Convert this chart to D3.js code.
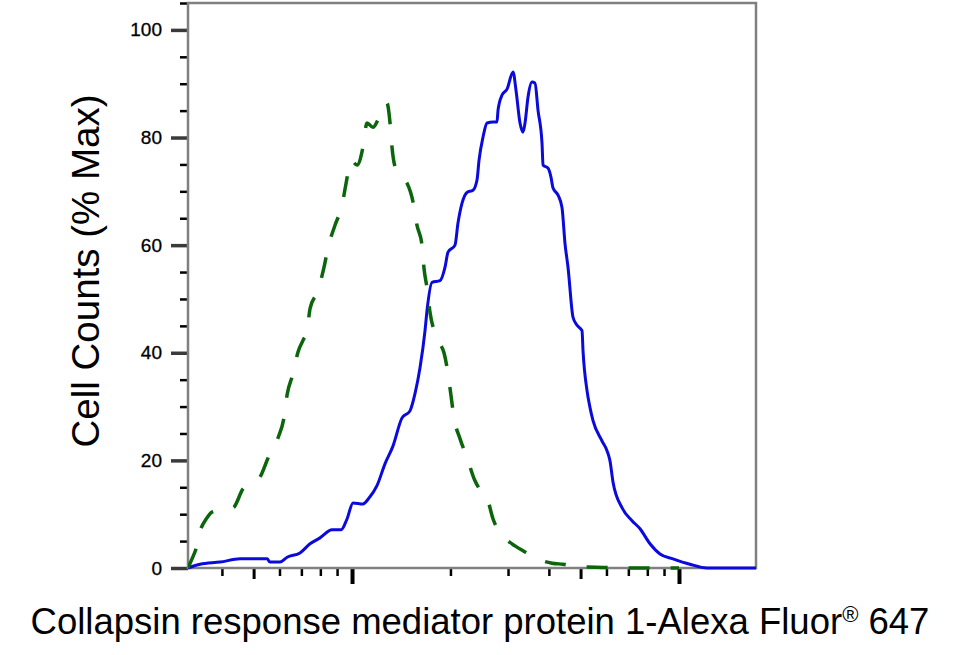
<!DOCTYPE html>
<html lang="en">
<head>
  <meta charset="UTF-8">
  <title>Cell Counts histogram</title>
  <style>
    body {
      margin: 0;
      background: #ffffff;
      font-family: "Liberation Sans", Arial, sans-serif;
    }
    svg { display: block; }
    .tick text { font-family: "Liberation Sans", Arial, sans-serif; }
  </style>
</head>
<body>
  <div id="chart"></div>

  <script src="https://d3js.org/d3.v7.min.js"></script>
  <script>
    // fluorescence intensity (log scale) and % of max for each histogram
    const greenX = [31.5, 32.4, 33.3, 34.5, 35.8, 37.3, 40.0, 43.3, 46.4, 49.5, 52.3, 55.4, 59.4, 61.9, 63.3, 66.0, 68.4, 70.8, 72.8, 74.4, 78.7, 82.1, 84.5, 88.7, 93.2, 95.9, 99.3, 103.6, 108.0, 111.1, 115.9, 120.9, 125.3, 127.9, 130.7, 132.5, 135.4, 141.2, 147.3, 153.7, 158.0, 163.7, 166.0, 169.6, 173.2, 179.4, 185.8, 191.1, 196.6, 200.8, 205.1, 214.0, 224.7, 237.7, 248.0, 258.8, 270.0, 293.7, 315.2, 333.3, 375.8, 408.9, 441.8, 505.1, 585.6, 674.2, 1000];
    const greenY = [0, 1.7, 3.5, 7.3, 9.1, 10.4, 10.8, 11.2, 14.7, 15.8, 16.9, 20.5, 24.2, 27.9, 32.2, 36.1, 40.2, 42.3, 43.9, 48.2, 51.6, 55.9, 59.6, 63.7, 67.4, 71.5, 75.8, 74.9, 78.2, 82.7, 81.9, 83.6, 84.7, 86.4, 82.7, 78.2, 74.5, 72.6, 71.5, 68.0, 63.7, 60.0, 55.7, 52.0, 47.5, 43.6, 41.7, 40.0, 36.1, 32.0, 27.9, 24.0, 20.5, 16.2, 14.3, 13.0, 9.1, 5.6, 4.1, 3.2, 1.5, 0.9, 0.7, 0.2, 0.1, 0, 0];

    const blueX = [31.5, 34.3, 39.5, 45.5, 55.0, 56.1, 60.2, 63.3, 69.3, 74.4, 79.8, 86.9, 92.6, 96.5, 100.7, 108.0, 112.7, 119.2, 126.2, 133.5, 142.2, 150.4, 155.8, 161.4, 167.2, 169.6, 175.7, 185.8, 192.5, 196.6, 206.5, 210.9, 217.0, 224.7, 234.4, 241.1, 244.6, 251.6, 258.8, 270.0, 277.6, 279.6, 287.6, 297.9, 310.7, 317.3, 326.4, 333.3, 338.1, 345.3, 355.2, 362.8, 370.5, 381.1, 383.8, 397.6, 406.1, 411.9, 426.6, 438.7, 448.1, 457.7, 474.1, 487.7, 505.1, 508.7, 523.2, 534.4, 545.8, 581.5, 602.3, 615.2, 628.3, 669.4, 718.3, 759.9, 815.3, 874.8, 958.7, 1080, 1218, 1720];
    const blueY = [0, 0.7, 1.1, 1.7, 1.7, 1.1, 1.1, 2.0, 2.8, 4.5, 5.6, 7.1, 7.1, 9.1, 12.1, 11.9, 13.0, 15.3, 19.4, 22.7, 27.9, 29.2, 32.4, 37.2, 44.1, 47.9, 53.1, 53.4, 55.9, 58.7, 60.0, 64.1, 67.8, 69.8, 70.2, 72.1, 75.8, 80.1, 82.7, 82.9, 82.9, 85.1, 87.9, 89.0, 92.2, 88.8, 82.7, 81.0, 82.7, 87.5, 90.3, 90.1, 85.1, 79.0, 74.9, 74.3, 72.6, 70.6, 69.3, 67.0, 60.3, 55.9, 46.6, 45.1, 44.1, 40.4, 33.0, 29.8, 27.4, 23.6, 21.8, 19.9, 16.0, 11.2, 8.8, 7.3, 4.5, 2.6, 1.7, 0.7, 0, 0];

    const yTicks = [0, 20, 40, 60, 80, 100];
    const xMajorTicks = [100, 1000];

    const width = 961;
    const height = 655;
    const plot = { left: 188, right: 756, top: 3, bottom: 568 };

    const x = d3.scaleLog().domain([31.5, 1720]).range([plot.left, plot.right]);
    const y = d3.scaleLinear().domain([0, 105]).range([plot.bottom, plot.top]);

    const svg = d3.select("#chart")
      .append("svg")
      .attr("width", width)
      .attr("height", height);

    // minor / mid ticks on the log axis (2..9 of each decade)
    const xMinor = [];
    const xMid = [];
    [10, 100, 1000].forEach(dec => {
      for (let k = 2; k <= 9; k++) {
        const v = k * dec;
        if (v < x.domain()[0] || v > x.domain()[1]) continue;
        (k === 5 ? xMid : xMinor).push(v);
      }
    });
    const yMinor = d3.range(5, 106, 5).filter(v => v % 20 !== 0);

    function styleTicks(g, color, w) {
      g.select(".domain").remove();
      g.selectAll(".tick line").attr("stroke", color).attr("stroke-width", w);
    }

    svg.append("g")
      .attr("transform", `translate(0,${plot.bottom})`)
      .call(d3.axisBottom(x).tickValues(xMinor).tickSize(8).tickFormat(""))
      .call(g => styleTicks(g, "#000", 2.5));
    svg.append("g")
      .attr("transform", `translate(0,${plot.bottom})`)
      .call(d3.axisBottom(x).tickValues(xMid).tickSize(11).tickFormat(""))
      .call(g => styleTicks(g, "#000", 3));
    svg.append("g")
      .attr("transform", `translate(0,${plot.bottom})`)
      .call(d3.axisBottom(x).tickValues(xMajorTicks).tickSize(16).tickFormat(""))
      .call(g => styleTicks(g, "#000", 4));

    svg.append("g")
      .attr("transform", `translate(${plot.left},0)`)
      .call(d3.axisLeft(y).tickValues(yMinor).tickSize(8).tickFormat(""))
      .call(g => styleTicks(g, "#000", 2.5));
    svg.append("g")
      .attr("transform", `translate(${plot.left},0)`)
      .call(d3.axisLeft(y).tickValues(yTicks).tickSize(17).tickPadding(9))
      .call(g => styleTicks(g, "#3a3a3a", 3.5))
      .call(g => g.selectAll(".tick text")
        .attr("fill", "#000")
        .attr("stroke", "#000")
        .attr("stroke-width", 0.3)
        .style("font-size", "19px"));

    // frame
    svg.append("rect")
      .attr("x", plot.left)
      .attr("y", plot.top)
      .attr("width", plot.right - plot.left)
      .attr("height", plot.bottom - plot.top)
      .attr("fill", "none")
      .attr("stroke", "#808080")
      .attr("stroke-width", 2.5);

    svg.append("clipPath").attr("id", "clip")
      .append("rect")
      .attr("x", plot.left)
      .attr("y", plot.top - 2)
      .attr("width", plot.right - plot.left)
      .attr("height", plot.bottom - plot.top + 4);

    const line = d3.line()
      .x(d => x(d[0]))
      .y(d => y(d[1]))
      .curve(d3.curveMonotoneX);

    svg.append("path")
      .datum(d3.zip(blueX, blueY))
      .attr("clip-path", "url(#clip)")
      .attr("fill", "none")
      .attr("stroke", "#0a0adc")
      .attr("stroke-width", 3)
      .attr("stroke-linejoin", "round")
      .attr("d", line);

    svg.append("path")
      .datum(d3.zip(greenX, greenY))
      .attr("clip-path", "url(#clip)")
      .attr("fill", "none")
      .attr("stroke", "#0b650b")
      .attr("stroke-width", 3.5)
      .attr("stroke-dasharray", "21,21")
      .attr("d", line);

    // axis titles
    const xTitle = svg.append("text")
      .attr("x", 480)
      .attr("y", 634)
      .attr("text-anchor", "middle")
      .style("font-size", "36.5px")
      .attr("fill", "#000");
    xTitle.append("tspan").text("Collapsin response mediator protein 1-Alexa Fluor");
    xTitle.append("tspan").attr("dy", -12).style("font-size", "22px").text("®");
    xTitle.append("tspan").attr("dy", 12).text(" 647");

    svg.append("text")
      .attr("transform", "translate(99,271) rotate(-90)")
      .attr("text-anchor", "middle")
      .style("font-size", "38.5px")
      .attr("fill", "#000")
      .text("Cell Counts (% Max)");
  </script>
</body>
</html>
